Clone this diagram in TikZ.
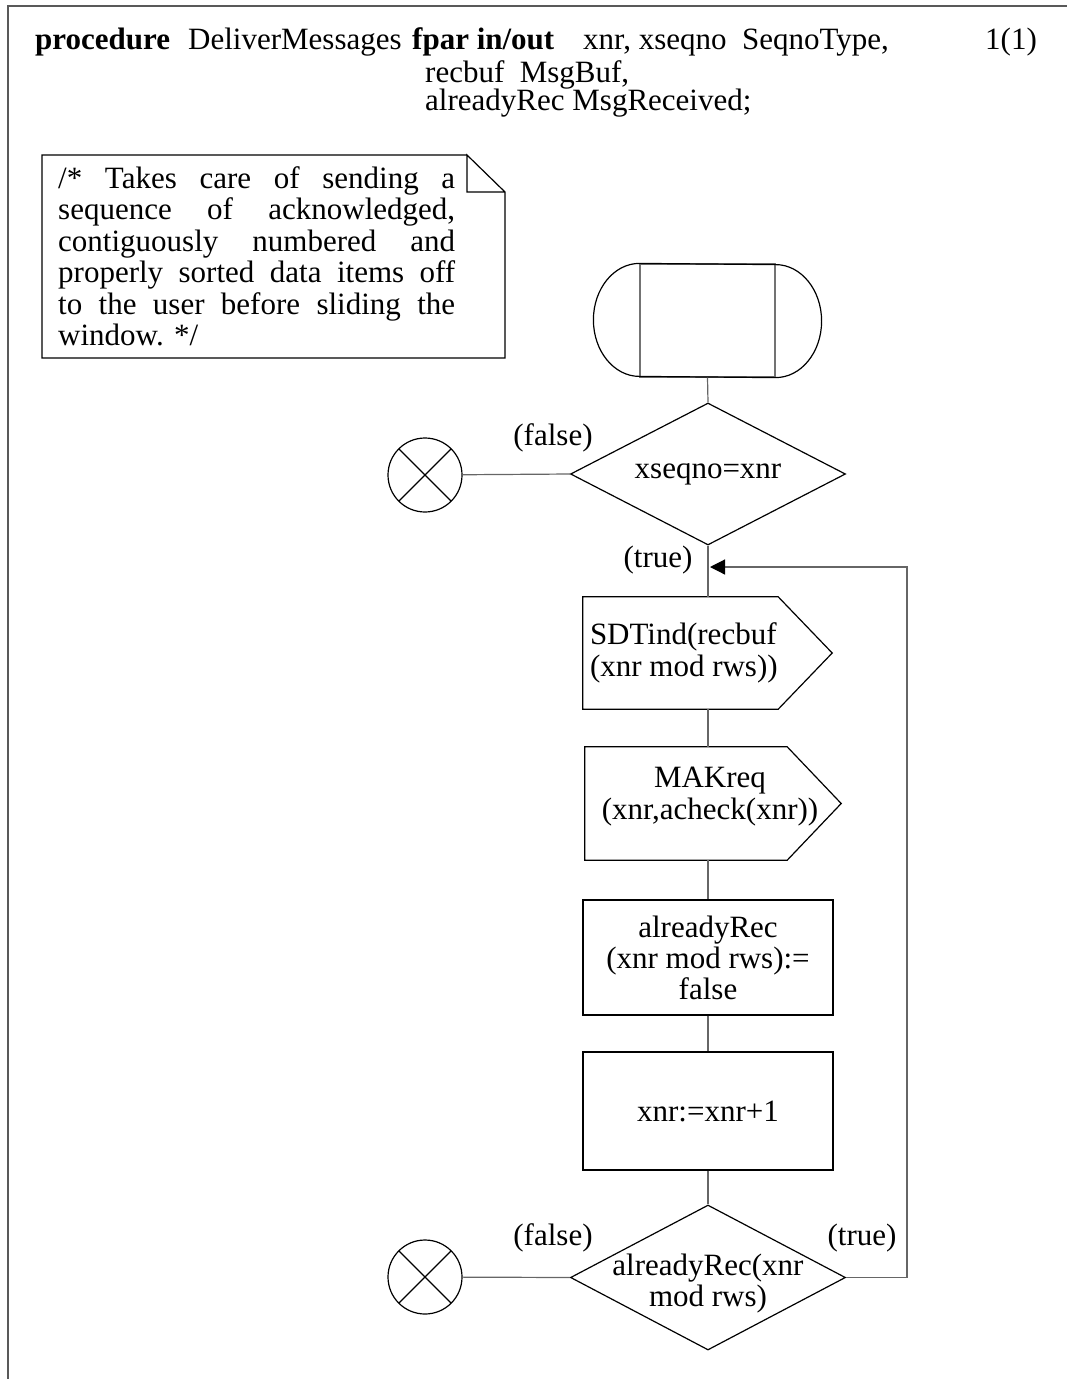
\documentclass[tikz,border=0pt]{standalone}
\usepackage{fontspec}
\setmainfont{Liberation Serif}
\usetikzlibrary{shapes.geometric,arrows.meta}

\tikzset{
  sdl/.style={draw=black, line width=1.2pt},
  txt/.style={font=\fontsize{31}{31.5}\selectfont, inner sep=0pt},
  task/.style={sdl, rectangle, minimum width=250pt, inner sep=0pt, align=center,
    font=\fontsize{31}{31}\selectfont},
  decision/.style={sdl, diamond, minimum width=275pt, inner sep=0pt},
  sigbody/.style={rectangle, inner sep=0pt},
  stopsym/.style={sdl, circle, minimum size=74pt, inner sep=0pt,
    path picture={\draw[line width=1.2pt]
      (path picture bounding box.north west) -- (path picture bounding box.south east)
      (path picture bounding box.north east) -- (path picture bounding box.south west);}},
  flow/.style={draw=black!60, line width=1.2pt}
}

\begin{document}
\begin{tikzpicture}[x=1pt, y=-1pt]
  \useasboundingbox (0,0) rectangle (1067,1379);
  % page frame
  \draw[draw=black!65, line width=2pt] (1067,6) -- (7.5,6) -- (7.5,1379);

  % heading
  \node[txt, anchor=base west] (kw) at (35,49) {\bfseries procedure};
  \node[txt, anchor=base west] (pname) at (188,49) {DeliverMessages};
  \node[txt, anchor=base west] (fpar) at (412,49) {\bfseries fpar in/out};
  \node[txt, anchor=base west] (par1) at (583,49) {xnr, xseqno\ \ SeqnoType,};
  \node[txt, anchor=base west] (par2) at (425,82) {recbuf\ \ MsgBuf,};
  \node[txt, anchor=base west] (par3) at (425,110) {alreadyRec MsgReceived;};
  \node[txt, anchor=base west] (page) at (985,49) {1(1)};

  % comment with folded corner
  \draw[line width=1.2pt] (467,155) -- (42,155) -- (42,358) -- (505,358) -- (505,192)
    -- (467,155) -- (467,192) -- (505,192);
  \node[txt, anchor=base west, text width=397pt, align=justify] (remark) at (58,188)
    {/* Takes care of sending a\linebreak sequence of acknowledged,\linebreak
     contiguously numbered and\linebreak properly sorted data items off\linebreak
     to the user before sliding the\linebreak window. */};

  % procedure start
  \node[draw=black!55, line width=1.2pt, rectangle, minimum width=135pt, minimum height=113pt,
    inner sep=0pt] (start) at (707.5,320.5) {};
  \draw[line width=1.2pt]
    (start.north west) arc[start angle=90, end angle=270, x radius=46pt, y radius=56.5pt]
    -- (start.south east) arc[start angle=-90, end angle=90, x radius=46pt, y radius=56.5pt]
    -- cycle;

  % first decision
  \node[decision, minimum height=142pt, label={[txt]center:xseqno=xnr}] (test1) at (708,474) {};
  \node[stopsym] (stop1) at (425,475) {};
  \node[txt] (f1) at (553,438) {(false)};
  \node[txt] (t1) at (658,560) {(true)};

  % outputs
  \node[sigbody, minimum width=195pt, minimum height=112pt,
    label={[txt, align=left, anchor=west, xshift=7pt]west:SDTind(recbuf\\(xnr mod rws))}] (sdt) at (680.5,653) {};
  \node[sigbody, minimum width=202pt, minimum height=113pt,
    label={[txt, align=center, xshift=24pt, yshift=7pt]center:MAKreq\\(xnr,acheck(xnr))}] (mak) at (686,803.5) {};
  \foreach \s in {sdt,mak}
    \draw[sdl] (\s.north west) -- (\s.north east) -- ([xshift=54pt]\s.east)
      -- (\s.south east) -- (\s.south west) -- cycle;

  % tasks
  \node[task, minimum height=115pt] (clear) at (708,957.5) {alreadyRec\\(xnr mod rws):=\\false};
  \node[task, minimum height=118pt] (incr) at (708,1111) {xnr:=xnr+1};

  % second decision
  \node[decision, minimum height=145pt,
    label={[txt, align=center, yshift=-6pt]center:alreadyRec(xnr\\mod rws)}] (test2) at (708,1277.5) {};
  \node[stopsym] (stop2) at (425,1277) {};
  \node[txt] (f2) at (553,1238) {(false)};
  \node[txt] (t2) at (862,1238) {(true)};

  % flow lines
  \coordinate (merge) at (710,567);
  \coordinate (back) at (907,567);
  \draw[flow] (start.south) -- (test1.north);
  \draw[flow] (stop1) -- (test1.west);
  \draw[flow] (test1.south) -- (test1.south |- sdt.north);
  \draw[flow] (test1.south |- sdt.south) -- (test1.south |- mak.north);
  \draw[flow] (test1.south |- mak.south) -- (clear.north);
  \draw[flow] (clear) -- (incr);
  \draw[flow] (incr) -- (test2);
  \draw[flow] (stop2) -- (test2.west);
  \draw[flow, -{Triangle[length=15pt, width=15pt, black]}] (test2.east) -| (back) -- (merge);
\end{tikzpicture}
\end{document}
